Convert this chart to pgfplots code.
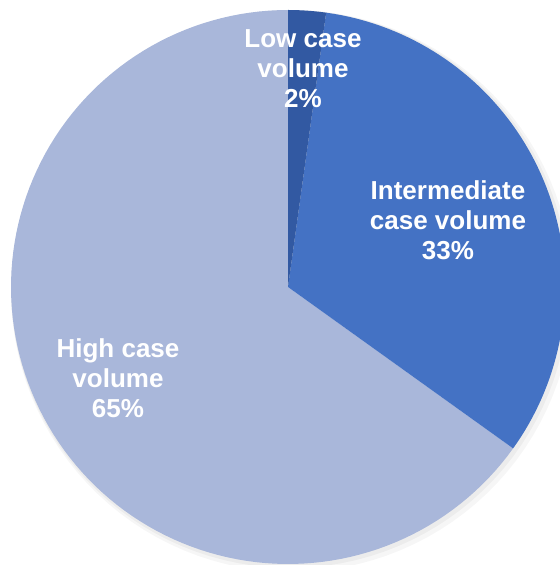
\documentclass[border=0pt]{standalone}
\usepackage{pgfplots}
\pgfplotsset{compat=1.18}
\usepackage{fontspec}
\setmainfont{Liberation Sans}
\definecolor{cLow}{HTML}{3259A2}
\definecolor{cMid}{HTML}{4472C4}
\definecolor{cHigh}{HTML}{A9B7DA}
\begin{document}
\begin{tikzpicture}
\begin{axis}[
  scale only axis, width=560bp, height=565bp,
  xmin=0, xmax=560, ymin=0, ymax=565,
  hide axis, clip=true,
]
% faint shadow
\addplot[draw=none, fill=black, fill opacity=0.035, domain=0:100, samples=120]
  ({292+281*sin(3.6*x)},{274+281*cos(3.6*x)}) -- cycle;
\addplot[draw=none, fill=black, fill opacity=0.04, domain=0:100, samples=120]
  ({290+279*sin(3.6*x)},{276+279*cos(3.6*x)}) -- cycle;
% slices: domain in cumulative percent
\addplot[draw=none, fill=cHigh, domain=34.9:100, samples=120]
  ({288+277*sin(3.6*x)},{278+277*cos(3.6*x)}) -- (axis cs:288,278) -- cycle;
\addplot[draw=none, fill=cMid, domain=2.2:34.9, samples=80]
  ({288+277*sin(3.6*x)},{278+277*cos(3.6*x)}) -- (axis cs:288,278) -- cycle;
\addplot[draw=none, fill=cLow, domain=0:2.2, samples=10]
  ({288+277*sin(3.6*x)},{278+277*cos(3.6*x)}) -- (axis cs:288,278) -- cycle;
\begin{scope}[every node/.style={text=white, align=center,
   font=\fontsize{26bp}{30bp}\selectfont\bfseries}]
\node at (axis cs:303,496) {Low case\\volume\\2\%};
\node at (axis cs:448,345) {Intermediate\\case volume\\33\%};
\node at (axis cs:118,187) {High case\\volume\\65\%};
\end{scope}
\end{axis}
\pgfresetboundingbox
\path[use as bounding box] (current axis.south west) rectangle (current axis.north east);
\end{tikzpicture}
\end{document}
